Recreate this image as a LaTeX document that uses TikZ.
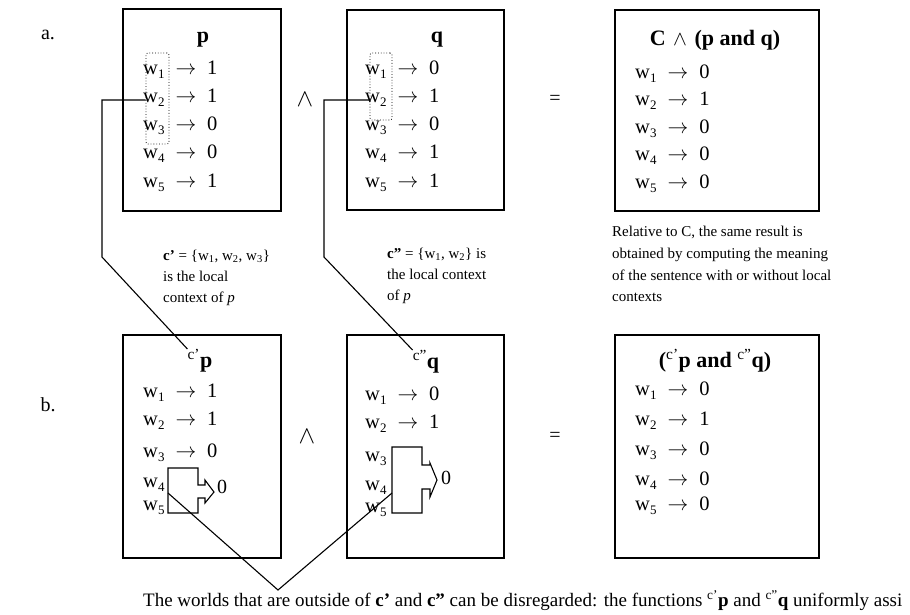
\documentclass[tikz,border=0pt]{standalone}
\usepackage{fontspec}
\setmainfont{Liberation Serif}
\usetikzlibrary{positioning,calc}

\tikzset{
  panel/.style={draw, line width=1.5pt, inner sep=0pt, minimum width=158pt, minimum height=202pt},
  tallpanel/.style={panel, minimum height=223pt},
  wrow/.style={anchor=base west, inner sep=0pt, font=\fontsize{20.5}{24}\selectfont},
  headline/.style={anchor=base, inner sep=0pt, font=\fontsize{22}{26}\selectfont\bfseries},
  opsign/.style={inner sep=0pt, font=\fontsize{20}{24}\selectfont},
  note/.style={anchor=north west, align=left, inner sep=0pt, font=\fontsize{15}{21}\selectfont},
  ctxbox/.style={draw, dotted, rounded corners=2pt, line width=0.8pt, inner sep=0pt},
  link/.style={line width=1.1pt},
  cutshape/.style={draw, line width=1.1pt, line join=miter}
}
\newcommand{\wsub}[1]{\raisebox{-4pt}{\fontsize{13}{13}\selectfont #1}}
\newcommand{\wmap}[2]{w\wsub{#1}\hspace{11pt}$\rightarrow$\hspace{11pt}#2}
\newcommand{\landsign}{{\fontsize{25}{25}\selectfont$\wedge$}}

\begin{document}
\begin{tikzpicture}[x=1pt, y=-1pt]
\useasboundingbox (0,0) rectangle (910,614);

% a. the global computation
\node[opsign] (laba) at (48,35) {a.};
\node[panel] (pa) at (202,110) {};
\node[headline] (tpa) at (203,42) {p};
\foreach \v [count=\i] in {1,1,0,0,1}
  \node[wrow] (pa\i) at (143,{74+28.25*(\i-1)}) {\wmap{\i}{\v}};
\node[ctxbox, minimum width=23pt, minimum height=91pt] (cpa) at (157.5,98.5) {};

\node[opsign] (anda) at (305,100) {\landsign};

\node[panel, minimum width=157pt, minimum height=200pt] (qa) at (425.5,110) {};
\node[headline] (tqa) at (437,42) {q};
\foreach \v [count=\i] in {0,1,0,1,1}
  \node[wrow] (qa\i) at (365,{74+28.25*(\i-1)}) {\wmap{\i}{\v}};
\node[ctxbox, minimum width=22pt, minimum height=67pt] (cqa) at (381,86.5) {};

\node[opsign] (eqa) at (555,100) {=};

\node[panel, minimum width=204pt, minimum height=201pt] (ra) at (717,110.5) {};
\node[headline] (tra) at (715,45) {C\hspace{2pt} $\wedge$\hspace{2pt} (p and q)};
\foreach \v [count=\i] in {0,1,0,0,0}
  \node[wrow] (ra\i) at (635,{78+27.5*(\i-1)}) {\wmap{\i}{\v}};

% local contexts
\node[note] (notep) at (163,250) {\textbf{c’} = \{w\textsubscript{1}, w\textsubscript{2}, w\textsubscript{3}\}\\is the local\\context of \textit{p}};
\node[note] (noteq) at (387,248) {\textbf{c”} = \{w\textsubscript{1}, w\textsubscript{2}\} is\\the local context\\of \textit{p}};
\node[note, font=\fontsize{15}{21.7}\selectfont] (noter) at (612,226) {Relative to C, the same result is\\obtained by computing the meaning\\of the sentence with or without local\\contexts};

% b. the local computation
\node[opsign] (labb) at (48,405) {b.};
\node[tallpanel] (pb) at (202,446.5) {};
\node[headline] (tpb) at (200,367) {\textsuperscript{\mdseries c’}p};
\foreach \i/\v/\y in {1/1/397,2/1/425,3/0/457}
  \node[wrow] (pb\i) at (143,\y) {\wmap{\i}{\v}};
\node[wrow] (pb4) at (143,487) {w\wsub{4}};
\node[wrow] (pb5) at (143,510) {w\wsub{5}};
\draw[cutshape] (168,468) -- (198,468) -- (198,485) -- (205,485) -- (205,480) -- (214,492)
  -- (205,503) -- (205,498) -- (198,498) -- (198,513) -- (168,513) -- cycle;
\coordinate (cutp) at (168,493);
\node[opsign] (zpb) at (222,487) {0};

\node[opsign] (andb) at (307,437) {\landsign};

\node[tallpanel, minimum width=157pt] (qb) at (425.5,446.5) {};
\node[headline] (tqb) at (426,368) {\textsuperscript{\mdseries c”}q};
\foreach \i/\v/\y in {1/0/400,2/1/428}
  \node[wrow] (qb\i) at (365,\y) {\wmap{\i}{\v}};
\node[wrow] (qb3) at (365,461) {w\wsub{3}};
\node[wrow] (qb4) at (365,490) {w\wsub{4}};
\node[wrow] (qb5) at (365,512) {w\wsub{5}};
\draw[cutshape] (392,447) -- (422,447) -- (422,465) -- (430,465) -- (430,463) -- (437,480)
  -- (430,497) -- (430,489) -- (422,489) -- (422,513) -- (392,513) -- cycle;
\coordinate (cutq) at (392,493);
\node[opsign] (zqb) at (446,478) {0};

\node[opsign] (eqb) at (555,437) {=};

\node[tallpanel, minimum width=204pt] (rb) at (717,446.5) {};
\node[headline] (trb) at (715,367) {(\textsuperscript{\mdseries c’}p and \textsuperscript{\mdseries c”}q)};
\foreach \i/\v/\y in {1/0/395,2/1/425,3/0/455,4/0/485,5/0/510}
  \node[wrow] (rb\i) at (635,\y) {\wmap{\i}{\v}};

% connectors
\coordinate (kinkpa) at (102,257);
\coordinate (kinkqa) at (324,257);
\coordinate (vtip) at (278,590);
\draw[link] ([yshift=-1.5pt]cpa.west) -| (kinkpa) -- (tpb.north west);
\draw[link] ([yshift=-1.5pt]cqa.west |- cpa.west) -| (kinkqa) -- (tqb.north west);
\draw[link] (cutp) -- (vtip) -- (cutq);

\node[anchor=base west, inner sep=0pt, font=\fontsize{19}{22}\selectfont] (footer) at (143,606)
  {The worlds that are outside of \textbf{c’} and \textbf{c”} can be disregarded: the functions \textsuperscript{c’}\textbf{p} and \textsuperscript{c”}\textbf{q} uniformly assi};
\end{tikzpicture}
\end{document}
